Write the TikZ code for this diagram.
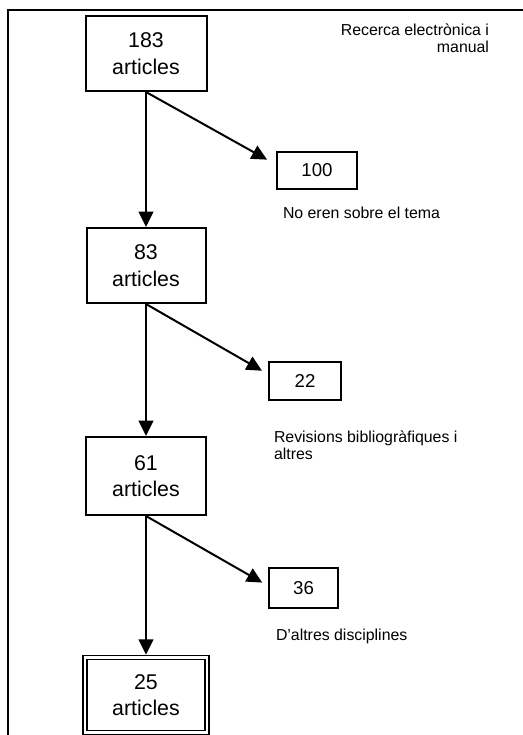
\documentclass[tikz,border=0pt]{standalone}
\usepackage{fontspec}
\setmainfont{Liberation Sans}
\usetikzlibrary{calc}
\usetikzlibrary{positioning}
\usetikzlibrary{arrows.meta}

\begin{document}
\begin{tikzpicture}[x=0.75pt,y=-0.75pt,->,>={Triangle[length=11.5pt,width=11pt]},line width=1.5pt,
	  main node/.style={rectangle,draw,inner sep=0pt,align=center,minimum width=90.75pt,minimum height=56.25pt,font=\fontsize{16}{20}\selectfont},
	  small node/.style={rectangle,draw,inner sep=0pt,font=\fontsize{14}{16}\selectfont},
	  note/.style={inner sep=0pt,font=\fontsize{11.9}{12.75}\selectfont}]

	 \useasboundingbox (0,0) rectangle (523,735);
	 \clip (0,0) rectangle (523,735);
	 \draw[-] (530,10) -- (8,10) -- (8,740);

	 \node[main node] (n183) at (146,53.5) {183\\articles};
	 \node[main node, minimum width=89.25pt] (n83) at ($ (n183) + (0,212) $) {83\\articles};
	 \node[main node, minimum width=90pt, minimum height=58.5pt] (n61) at ($ (n83) + (0,210.5) $) {61\\articles};
	 \node[main node, double, double distance=1.6pt, line width=1.2pt, minimum width=91.5pt] (n25) at ($ (n61) + (0,219) $) {25\\articles};

	 \node[small node, minimum width=60pt, minimum height=27.75pt] (n100) at ($ (n183) + (171,117) $) {100};
	 \node[small node, minimum width=54pt, minimum height=28.5pt] (n22) at ($ (n83) + (159,115.5) $) {22};
	 \node[small node, minimum width=51.75pt, minimum height=30pt] (n36) at ($ (n61) + (157.5,112) $) {36};

	 \node[note, anchor=base east, align=right] (src) at (490,53) {Recerca electrònica i\\manual};
	 \node[note, anchor=base west] (l100) at ($ (n100.south west) + (6,28) $) {No eren sobre el tema};
	 \node[note, anchor=base west, align=left] (l22) at ($ (n22.south west) + (5,58) $) {Revisions bibliogràfiques i\\altres};
	 \node[note, anchor=base west] (l36) at ($ (n36.south west) + (7,31) $) {D’altres disciplines};

	 \path
	    (n183.south) edge (n83.north)
	    (n183.south) edge[shorten >=7.7pt] ($ (n100.north west)!0.35!(n100.south west) $)
	    (n83.south) edge (n61.north)
	    (n83.south) edge[shorten >=5.2pt] ($ (n22.north west)!0.33!(n22.south west) $)
	    (n61.south) edge[shorten >=1.5pt] (n25.north)
	    (n61.south) edge[shorten >=5pt] ($ (n36.north west)!0.45!(n36.south west) $)
;
	\end{tikzpicture}
\end{document}
